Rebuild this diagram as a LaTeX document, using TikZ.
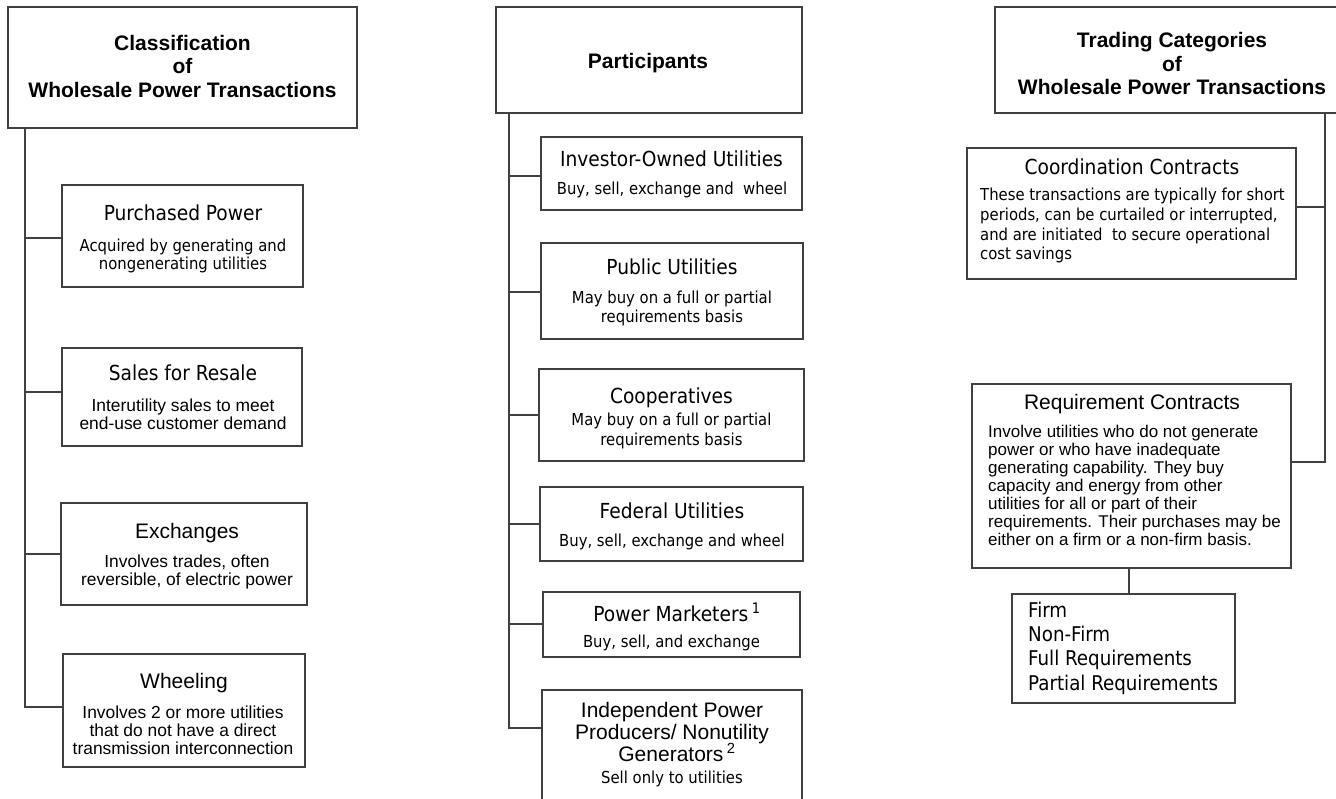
\documentclass[tikz,border=0pt]{standalone}
\usepackage{fontspec}
\setmainfont{Liberation Sans}
\newfontfamily\ari{Liberation Sans}
\newfontfamily\tah{DejaVu Sans Condensed}
\definecolor{lc}{HTML}{404040}

% one line of text, placed by its baseline
\newcommand\putline[5]{\node[#1] (#2) at (#3,#4) {#5};}

\begin{document}
\begin{tikzpicture}[x=1pt,y=-1pt,
  box/.style={draw=lc, line width=1.2pt, inner sep=0pt, fill=white},
  conn/.style={draw=lc, line width=1.2pt},
  hdr/.style={font=\ari\bfseries\fontsize{21}{24}\selectfont, anchor=base, inner sep=0pt},
  taT/.style={font=\tah\fontsize{20.7}{24}\selectfont, anchor=base, inner sep=0pt},
  taB/.style={font=\tah\fontsize{16.5}{18}\selectfont, anchor=base, inner sep=0pt},
  arT/.style={font=\ari\fontsize{21}{24}\selectfont, anchor=base, inner sep=0pt},
  arB/.style={font=\ari\fontsize{17.4}{18}\selectfont, anchor=base, inner sep=0pt},
  taL/.style={font=\tah\fontsize{16.5}{18}\selectfont, anchor=base west, inner sep=0pt},
  arL/.style={font=\ari\fontsize{17}{18}\selectfont, anchor=base west, inner sep=0pt},
  lst/.style={font=\tah\fontsize{20.3}{24}\selectfont, anchor=base west, inner sep=0pt},
]
\useasboundingbox (0,0) rectangle (1336,798);
\clip (0,0) rectangle (1336,798);
\fill[white] (0,0) rectangle (1336,798);

% ---------------- Classification column ----------------
\node[box, minimum width=349pt, minimum height=121pt] (hL) at (182.5,67.5) {};
\node[box, minimum width=241pt, minimum height=102pt] (pp) at (182.5,236) {};
\node[box, minimum width=240pt, minimum height=98pt]  (sr) at (182,397) {};
\node[box, minimum width=246pt, minimum height=102pt] (ex) at (184,554) {};
\node[box, minimum width=242pt, minimum height=113pt] (wh) at (184,710.5) {};

\coordinate (sL) at (25,0);
\coordinate (jpp) at (25,238);
\coordinate (jsr) at (25,392);
\coordinate (jex) at (25,554);
\coordinate (jwh) at (25,707);
\draw[conn] (hL.south -| sL) -- (jwh) -- (jwh -| wh.west);
\draw[conn] (jpp) -- (jpp -| pp.west);
\draw[conn] (jsr) -- (jsr -| sr.west);
\draw[conn] (jex) -- (jex -| ex.west);

\putline{hdr}{hL1}{182.5}{50}{Classification}
\putline{hdr}{hL2}{182.5}{73}{of}
\putline{hdr}{hL3}{182.5}{97}{Wholesale Power Transactions}

\putline{taT}{ppT}{183}{220}{Purchased Power}
\putline{taB}{pp1}{183}{251}{Acquired by generating and}
\putline{taB}{pp2}{183}{269}{nongenerating utilities}

\putline{taT}{srT}{183}{380}{Sales for Resale}
\putline{arB}{sr1}{183}{411}{Interutility sales to meet}
\putline{arB}{sr2}{183}{429}{end-use customer demand}

\putline{arT}{exT}{187}{538}{Exchanges}
\putline{arB}{ex1}{187}{567}{Involves trades, often}
\putline{arB}{ex2}{187}{585}{reversible, of electric power}

\putline{arT}{whT}{184}{688}{Wheeling}
\putline{arB}{wh1}{183}{718}{Involves 2 or more utilities}
\putline{arB}{wh2}{183}{736}{that do not have a direct}
\putline{arB}{wh3}{183}{754}{transmission interconnection}

% ---------------- Participants column ----------------
\node[box, minimum width=306pt, minimum height=106pt] (hM) at (649,60) {};
\node[box, minimum width=261pt, minimum height=73pt]  (iou) at (671.5,173.5) {};
\node[box, minimum width=262pt, minimum height=96pt]  (pub) at (672,291) {};
\node[box, minimum width=265pt, minimum height=92pt]  (coop) at (671.5,415) {};
\node[box, minimum width=263pt, minimum height=74pt]  (fed) at (671.5,524) {};
\node[box, minimum width=257pt, minimum height=65pt]  (pm) at (671.5,624.5) {};
\node[box, minimum width=260pt, minimum height=140pt] (ipp) at (672,760) {};

\coordinate (sM) at (509,0);
\coordinate (jiou) at (509,176);
\coordinate (jpub) at (509,292);
\coordinate (jcoop) at (509,415);
\coordinate (jfed) at (509,524);
\coordinate (jpm) at (509,624);
\coordinate (jipp) at (509,728);
\draw[conn] (hM.south -| sM) -- (jipp) -- (jipp -| ipp.west);
\draw[conn] (jiou) -- (jiou -| iou.west);
\draw[conn] (jpub) -- (jpub -| pub.west);
\draw[conn] (jcoop) -- (jcoop -| coop.west);
\draw[conn] (jfed) -- (jfed -| fed.west);
\draw[conn] (jpm) -- (jpm -| pm.west);

\putline{hdr}{hM1}{648}{68}{Participants}

\putline{taT}{iouT}{671.5}{166}{Investor-Owned Utilities}
\putline{taB}{iou1}{672}{194}{Buy, sell, exchange and\ \ wheel}

\putline{taT}{pubT}{672}{274}{Public Utilities}
\putline{taB}{pub1}{672}{303}{May buy on a full or partial}
\putline{taB}{pub2}{672}{322}{requirements basis}

\putline{taT}{coopT}{671.5}{403}{Cooperatives}
\putline{taB}{coop1}{671.5}{425}{May buy on a full or partial}
\putline{taB}{coop2}{671.5}{445}{requirements basis}

\putline{taT}{fedT}{672}{518}{Federal Utilities}
\putline{taB}{fed1}{672}{546}{Buy, sell, exchange and wheel}

\putline{taT}{pmT}{677}{621}{Power Marketers\,\textsuperscript{1}}
\putline{taB}{pm1}{671.5}{647}{Buy, sell, and exchange}

\putline{arT}{ipp1}{672}{717}{Independent Power}
\putline{arT}{ipp2}{672}{739}{Producers/ Nonutility}
\putline{arT}{ipp3}{677}{761}{Generators\,\textsuperscript{2}}
\putline{taB}{ipp4}{672}{783}{Sell only to utilities}

% ---------------- Trading categories column ----------------
\node[box, minimum width=355pt, minimum height=106pt] (hR) at (1172.5,60) {};
\node[box, minimum width=329pt, minimum height=131pt] (co) at (1131.5,213.5) {};
\node[box, minimum width=319pt, minimum height=184pt] (rq) at (1131.5,476) {};
\node[box, minimum width=223pt, minimum height=109pt] (fm) at (1123.5,648.5) {};

\coordinate (sR) at (1325,0);
\coordinate (jco) at (1325,207);
\coordinate (jrq) at (1325,462);
\coordinate (jfm) at (1129,0);
\draw[conn] (hR.south -| sR) -- (jrq) -- (jrq -| rq.east);
\draw[conn] (jco) -- (jco -| co.east);
\draw[conn] (rq.south -| jfm) -- (fm.north -| jfm);

\putline{hdr}{hR1}{1172}{47}{Trading Categories}
\putline{hdr}{hR2}{1172}{71}{of}
\putline{hdr}{hR3}{1172}{94}{Wholesale Power Transactions}

\putline{taT}{coT}{1132}{174}{Coordination Contracts}
\putline{taL}{co1}{980}{200}{These transactions are typically for short}
\putline{taL}{co2}{980}{220}{periods, can be curtailed or interrupted,}
\putline{taL}{co3}{980}{240}{and are initiated\ \ to secure operational}
\putline{taL}{co4}{980}{259}{cost savings}

\putline{arT}{rqT}{1132}{409}{Requirement Contracts}
\putline{arL}{rq1}{988}{437}{Involve utilities who do not generate}
\putline{arL}{rq2}{988}{455}{power or who have inadequate}
\putline{arL}{rq3}{988}{473}{generating capability. They buy}
\putline{arL}{rq4}{988}{491}{capacity and energy from other}
\putline{arL}{rq5}{988}{509}{utilities for all or part of their}
\putline{arL}{rq6}{988}{527}{requirements. Their purchases may be}
\putline{arL}{rq7}{988}{545}{either on a firm or a non-firm basis.}

\putline{lst}{fm1}{1028}{617}{Firm}
\putline{lst}{fm2}{1028}{641}{Non-Firm}
\putline{lst}{fm3}{1028}{665}{Full Requirements}
\putline{lst}{fm4}{1028}{690}{Partial Requirements}
\end{tikzpicture}
\end{document}
